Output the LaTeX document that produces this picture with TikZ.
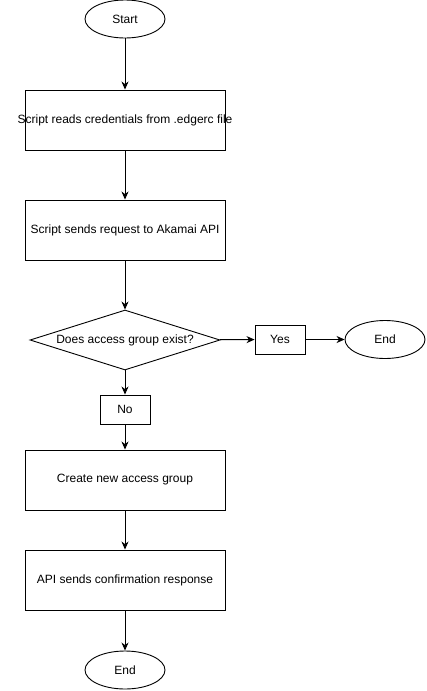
\documentclass[tikz,border=0pt]{standalone}
\usepackage{fontspec}
\setmainfont{Liberation Sans}
\usetikzlibrary{shapes.geometric,arrows.meta}

\begin{document}
\begin{tikzpicture}
[x=1pt,y=-1pt,
  lineDecorate/.style={-{Stealth[length=8pt,width=7pt,inset=2.5pt]},line width=0.9pt},%
  boxDecorate/.style={shape=rectangle,draw,line width=0.9pt,minimum width=200pt,minimum height=60pt,inner xsep=-10pt,inner ysep=0pt},
  smallDecorate/.style={shape=rectangle,draw,line width=0.9pt,minimum width=50pt,minimum height=29pt,inner sep=0pt},
  termDecorate/.style={shape=ellipse,draw,line width=0.9pt,minimum width=80pt,minimum height=38pt,inner sep=0pt},
  decideDecorate/.style={shape=diamond,draw,line width=0.9pt,aspect=3.17,minimum width=190pt,minimum height=60pt,inner sep=0pt}]
\fontsize{12pt}{14pt}\selectfont
\useasboundingbox (0,0) rectangle (426,691);
%% nodes
\node (start) at (125,19) [termDecorate] {Start};
\node (read) at (125,120) [boxDecorate] {Script reads credentials from .edgerc file};
\node (send) at (125,230) [boxDecorate] {Script sends request to Akamai API};
\node (exist) at (125,340) [decideDecorate] {Does access group exist?};
\node (yes) at (280,339.5) [smallDecorate] {Yes};
\node (endright) at (385,339.5) [termDecorate] {End};
\node (no) at (125,409.5) [smallDecorate] {No};
\node (create) at (125,480) [boxDecorate] {Create new access group};
\node (confirm) at (125,580) [boxDecorate] {API sends confirmation response};
\node (endbottom) at (125,670) [termDecorate] {End};
%% connectors
\path
\foreach \startnode/\endnode in {
  start/read, read/send, send/exist, exist/no, no/create,
  create/confirm, confirm/endbottom, exist/yes, yes/endright}
{
  (\startnode) edge[lineDecorate] (\endnode)
};
\end{tikzpicture}
\end{document}
